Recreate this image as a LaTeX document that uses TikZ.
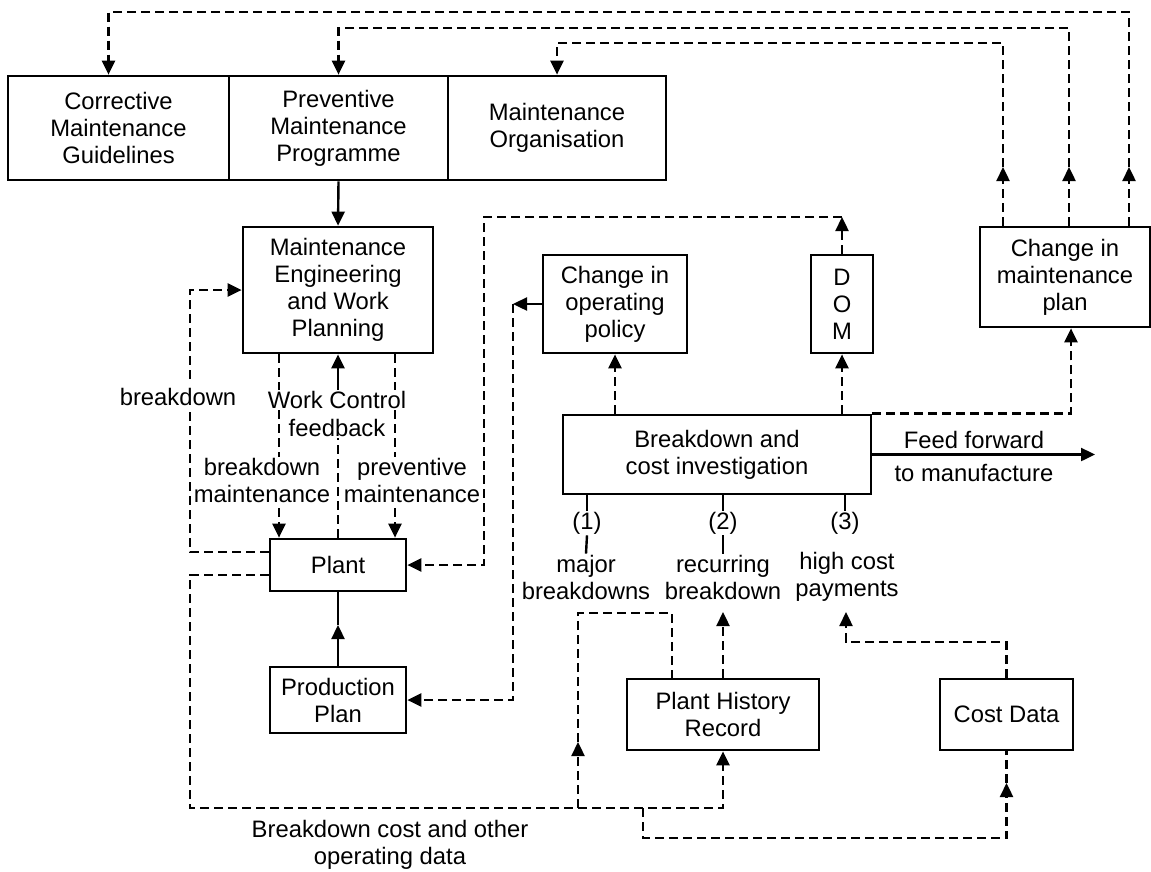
\documentclass[tikz,border=0pt]{standalone}
\usepackage{fontspec}
\setmainfont{Liberation Sans}
\usetikzlibrary{arrows.meta}
\newcommand{\lbl}{\fontsize{23.8}{27}\selectfont}
\begin{document}
\begin{tikzpicture}[x=1pt,y=-1pt,
  box/.style={draw, line width=2.7pt, align=center, inner sep=0pt, font=\lbl},
  lab/.style={align=center, inner sep=1pt, font=\lbl},
  wlab/.style={lab, fill=white},
  dl/.style={line width=2.4pt, dash pattern=on 9pt off 5pt},
  sl/.style={line width=2.4pt},
  tip/.style={-{Triangle[length=14pt,width=13pt]}}]
\useasboundingbox[fill=white] (0,0) rectangle (1151,871);

% boxes
\node[box, minimum width=221pt, minimum height=104pt] (cmg) at (118.5,128) {Corrective\\Maintenance\\Guidelines};
\node[box, minimum width=219pt, minimum height=104pt] (pmp) at (338.5,128) {Preventive\\Maintenance\\Programme};
\node[box, minimum width=218pt, minimum height=104pt] (mo) at (557,128) {Maintenance\\Organisation};
\node[box, minimum width=190pt, minimum height=126pt] (mewp) at (338,290) {Maintenance\\Engineering\\and Work\\Planning};
\node[box, minimum width=144pt, minimum height=98pt] (cop) at (615,304) {Change in\\operating\\policy};
\node[box, minimum width=62pt, minimum height=98pt] (dom) at (842,304) {D\\O\\M};
\node[box, minimum width=170pt, minimum height=100pt] (cmp) at (1065,277) {Change in\\maintenance\\plan};
\node[box, minimum width=308pt, minimum height=79pt] (bci) at (717,454.5) {Breakdown and\\cost investigation};
\node[box, minimum width=136pt, minimum height=52pt] (plant) at (338,565) {Plant};
\node[box, minimum width=136pt, minimum height=66pt] (pp) at (338,700) {Production\\Plan};
\node[box, minimum width=192pt, minimum height=71pt] (phr) at (723,714.5) {Plant History\\Record};
\node[box, minimum width=133pt, minimum height=71pt] (cd) at (1006.5,714.5) {Cost Data};

% helper coordinates
\coordinate (t1) at (0,12);
\coordinate (t2) at (0,28);
\coordinate (t3) at (0,43);
\coordinate (mid) at (0,167);
\coordinate (r1) at ([xshift=64pt]cmp.north);
\coordinate (r2) at ([xshift=4pt]cmp.north);
\coordinate (r3) at ([xshift=-62pt]cmp.north);
\coordinate (c1) at ([xshift=-10pt]cmg.north);
\coordinate (yd) at (0,217);
\coordinate (xl) at (484,0);
\coordinate (xm) at (513,0);
\coordinate (xc) at ([xshift=6pt]cmp.south);
\coordinate (ff) at (1095,0);
\coordinate (xa) at (279,0);
\coordinate (xb) at (395,0);
\coordinate (xL) at (190,0);
\coordinate (pw1) at ([yshift=13pt]plant.west);
\coordinate (pw2) at ([yshift=-10pt]plant.west);
\coordinate (yb) at (0,808);
\coordinate (xk) at (578,0);
\coordinate (yk) at (0,613);
\coordinate (yka) at (0,742);
\coordinate (phrL) at ([xshift=-51pt]phr.north);
\coordinate (xj) at (643,0);
\coordinate (yj) at (0,838);
\coordinate (yja) at (0,783);
\coordinate (ya) at (0,612);
\coordinate (yc) at (0,642);
\coordinate (xh) at (846,0);
\coordinate (ymid) at (0,625);

% top feedback loops from change in maintenance plan
\draw[dl,tip] (r1) -- (r1 |- mid);
\draw[dl,tip] (r1 |- mid) -- (r1 |- t1) -- (c1 |- t1) -- (c1);
\draw[dl,tip] (r2) -- (r2 |- mid);
\draw[dl,tip] (r2 |- mid) -- (r2 |- t2) -- (pmp.north |- t2) -- (pmp.north);
\draw[dl,tip] (r3) -- (r3 |- mid);
\draw[dl,tip] (r3 |- mid) -- (r3 |- t3) -- (mo.north |- t3) -- (mo.north);

% programme to planning
\draw[sl,tip] (pmp.south) -- (mewp.north);

% DOM loop to plant
\draw[dl,tip] (dom.north) -- (dom.north |- yd);
\draw[dl,tip] (dom.north |- yd) -- (xl |- yd) -- (xl |- plant.east) -- (plant.east);

% change in operating policy to production plan
\draw[sl,tip] (cop.west) -- (xm |- cop.west);
\draw[dl,tip] (xm |- cop.west) -- (xm |- pp.east) -- (pp.east);

% investigation outputs
\draw[dl,tip] (cop.south |- bci.north) -- (cop.south);
\draw[dl,tip] (dom.south |- bci.north) -- (dom.south);
\draw[dl,tip] (bci.north east) -- (xc |- bci.north) -- (xc);
\draw[sl,tip] (bci.east) -- (ff |- bci.east);
\node[lab] (ff1) at (974,440) {Feed forward};
\node[lab] (ff2) at (974,473) {to manufacture};

% planning <-> plant
\draw[dl,tip] (xa |- mewp.south) -- (xa |- plant.north);
\draw[dl,tip] (xb |- mewp.south) -- (xb |- plant.north);
\node[wlab] (bm) at (262,480) {breakdown\\maintenance};
\node[wlab] (pm) at (412,480) {preventive\\maintenance};
\node[wlab] (wc) at (337,400) {Work Control};
\node[lab] (fb) at (337,428) {feedback};
\draw[dl] (plant.north) -- (plant.north |- fb.south);
\draw[sl,tip] (mewp.south |- wc.north) -- (mewp.south);

% breakdown loop
\draw[dl,tip] (pw1) -- (xL |- pw1) -- (xL |- mewp.west) -- (mewp.west);
\node[wlab, inner sep=4pt] (bk) at (178,397) {breakdown};

% plant production plan
\draw[sl,tip] (pp.north) -- (pp.north |- ymid);
\draw[sl] (pp.north |- ymid) -- (plant.south);

% lower data loop
\draw[dl,tip] (pw2) -- (xL |- pw2) -- (xL |- yb) -- (phr.south |- yb) -- (phr.south);
\draw[dl,tip] (xk |- yb) -- (xk |- yka);
\draw[dl] (xk |- yka) -- (xk |- yk) -- (phrL |- yk) -- (phrL);
\draw[dl,tip] (xj |- yb) -- (xj |- yj) -- (cd.south |- yj) -- (cd.south |- yja);
\draw[dl] (cd.south |- yja) -- (cd.south);
\node[lab] (bcl) at (390,845) {Breakdown cost and other\\operating data};

% numbered categories
\node[lab] (n1) at (587,523) {(1)};
\node[lab] (n2) at (723,523) {(2)};
\node[lab] (n3) at (845,523) {(3)};
\node[lab] (maj) at (586,577) {major\\breakdowns};
\node[lab] (rec) at (723,577) {recurring\\breakdown};
\node[lab] (hc) at (847,577) {high cost\\payments};
\draw[sl] (n1.north |- bci.south) -- (n1.north);
\draw[sl] (n2.north |- bci.south) -- (n2.north);
\draw[sl] (n3.north |- bci.south) -- (n3.north);
\draw[sl] (n1.south) -- (maj.north);
\draw[sl] (n2.south) -- (rec.north);

% records to categories
\draw[dl,tip] (phr.north) -- (phr.north |- ya);
\draw[dl,tip] (cd.north) -- (cd.north |- yc) -- (xh |- yc) -- (xh |- ya);
\end{tikzpicture}
\end{document}
